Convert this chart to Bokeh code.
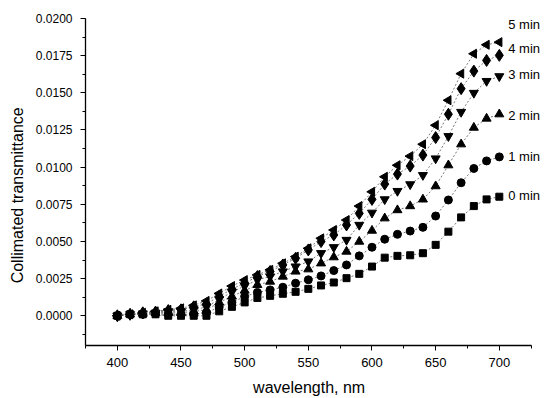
import math
from bokeh.plotting import figure
from bokeh.models import Range1d, Label, PrintfTickFormatter, SingleIntervalTicker
from bokeh.embed import file_html
from bokeh.resources import INLINE

wavelength = list(range(400, 701, 10))

t0 = [0.0, 0.0001, 0.0001, 0.0001, 0.0000, 0.0000, 0.0000, 0.0000, 0.0003, 0.0006,
      0.0009, 0.0012, 0.00134, 0.00148, 0.00161, 0.00181, 0.00204, 0.00224, 0.00253, 0.00282,
      0.00331, 0.00391, 0.00403, 0.00407, 0.00421, 0.00477, 0.00566, 0.00662, 0.00738, 0.00783,
      0.00801]
t1 = [0.0, 0.0001, 0.0001, 0.00015, 0.0001, 0.0001, 0.0001, 0.0002, 0.0006, 0.0009,
      0.0013, 0.00157, 0.00174, 0.00192, 0.00219, 0.00242, 0.00268, 0.00304, 0.00342, 0.00403,
      0.00461, 0.00515, 0.00548, 0.0057, 0.00595, 0.00671, 0.00779, 0.00895, 0.00991, 0.01042,
      0.01069]
t2 = [0.0, 0.0001, 0.00015, 0.0002, 0.0002, 0.0002, 0.0003, 0.0004, 0.0009, 0.0013,
      0.0017, 0.00208, 0.0023, 0.00264, 0.00298, 0.00313, 0.00353, 0.00394, 0.00432, 0.00499,
      0.00573, 0.00656, 0.00711, 0.00738, 0.00783, 0.00872, 0.01013, 0.01154, 0.01266, 0.01327,
      0.01356]
t3 = [0.0, 0.0001, 0.00015, 0.0002, 0.0003, 0.0003, 0.0004, 0.0006, 0.0011, 0.0016,
      0.0020, 0.00242, 0.00264, 0.00298, 0.00331, 0.00365, 0.00421, 0.00461, 0.0051, 0.00611,
      0.00693, 0.00783, 0.00839, 0.00884, 0.00946, 0.01058, 0.01208, 0.01371, 0.01499, 0.01579,
      0.01611]
t4 = [0.0, 0.0001, 0.0002, 0.00025, 0.00035, 0.0004, 0.0006, 0.0008, 0.0013, 0.0018,
      0.0022, 0.00264, 0.00298, 0.00342, 0.00387, 0.00443, 0.00499, 0.00544, 0.00611, 0.00689,
      0.00783, 0.00886, 0.00953, 0.01007, 0.01081, 0.01199, 0.01356, 0.01528, 0.01646, 0.01718,
      0.01752]
t5 = [0.0, 0.0001, 0.0002, 0.0003, 0.0004, 0.0005, 0.0007, 0.0010, 0.0015, 0.0020,
      0.0024, 0.00275, 0.00309, 0.00353, 0.00398, 0.00454, 0.00521, 0.00577, 0.00644, 0.00738,
      0.00834, 0.00935, 0.01013, 0.01074, 0.01154, 0.01282, 0.0145, 0.01629, 0.01763, 0.01823,
      0.01841]

series = [t0, t1, t2, t3, t4, t5]
series_names = ["0 min", "1 min", "2 min", "3 min", "4 min", "5 min"]

# styles
markers = ["square", "circle", "triangle", "inverted_triangle", "diamond", "triangle"]
sizes = [7, 8, 9, 9, 12, 9]
angles = [0, 0, 0, 0, 0, math.pi / 2]
label_x = 707
label_y = [0.0081, 0.0107, 0.0135, 0.0162, 0.0180, 0.0196]

p = figure(width=552, height=398, output_backend="svg", toolbar_location=None,
           x_range=Range1d(375, 740.2), y_range=Range1d(-0.002, 0.020),
           min_border_left=85, min_border_right=2, min_border_top=18, min_border_bottom=52)
p.outline_line_color = None
p.xgrid.visible = False
p.ygrid.visible = False
p.background_fill_color = "white"
p.border_fill_color = "white"

for ys, mk, sz, ang in zip(series, markers, sizes, angles):
    p.line(wavelength, ys, line_color="#555555", line_width=0.8, line_dash="2 2")
    p.scatter(wavelength, ys, marker=mk, size=sz, angle=ang,
              fill_color="black", line_color="black")

for name, ly in zip(series_names, label_y):
    p.add_layout(Label(x=label_x, y=ly, text=name, text_font="Liberation Sans",
                       text_font_size="13px", text_baseline="middle", text_color="black"))

p.xaxis.ticker = SingleIntervalTicker(interval=50, num_minor_ticks=2)
p.yaxis.ticker = SingleIntervalTicker(interval=0.0025, num_minor_ticks=2)
p.yaxis.formatter = PrintfTickFormatter(format="%.4f")
p.xaxis.bounds = (375, 725)

for ax in (p.xaxis[0], p.yaxis[0]):
    ax.axis_line_color = "black"
    ax.axis_line_width = 1.3
    ax.major_tick_line_color = "black"
    ax.minor_tick_line_color = "black"
    ax.major_tick_in = 0
    ax.major_tick_out = 5
    ax.minor_tick_in = 0
    ax.minor_tick_out = 3
    ax.major_label_text_font = "Liberation Sans"
    ax.axis_label_text_font = "Liberation Sans"
    ax.axis_label_text_font_style = "normal"
    ax.axis_label_text_font_size = "16px"
    ax.major_label_text_color = "black"
    ax.axis_label_text_color = "black"

p.xaxis.major_label_text_font_size = "13px"
p.yaxis.major_label_text_font_size = "12px"
p.xaxis.major_label_standoff = 7
p.yaxis.major_label_standoff = 8
p.xaxis.axis_label = "wavelength, nm" + "\u00a0" * 4
p.yaxis.axis_label = "Collimated transmittance" + "\u00a0" * 6
p.xaxis.axis_label_standoff = 9
p.yaxis.axis_label_standoff = 7

open("out.html", "w").write(file_html(p, INLINE))
